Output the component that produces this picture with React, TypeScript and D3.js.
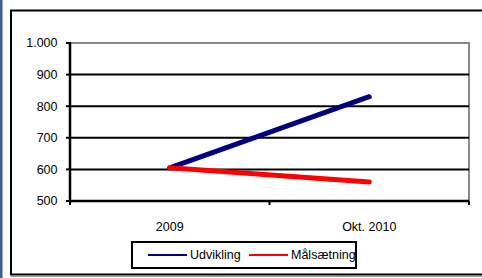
import React from "react";
import * as d3 from "d3";

const categories = ["2009", "Okt. 2010"];
const udvikling = [605, 830];
const maalsaetning = [605, 560];
const yTicks = [500, 600, 700, 800, 900, 1000];
const seriesNames = ["Udvikling", "Målsætning"];
const seriesColors = ["#000080", "#FF0000"];

const W = 482;
const H = 278;
const plot = { left: 70, top: 43, right: 469, bottom: 201 };

export default function App() {
  const x = d3.scaleBand<string>().domain(categories).range([plot.left, plot.right]).padding(0);
  const y = d3.scaleLinear().domain([500, 1000]).range([plot.bottom, plot.top]);
  const fmt = (v: number) => d3.format(",")(v).replace(/,/g, ".");
  const line = d3
    .line<number>()
    .x((_, i) => (x(categories[i]) as number) + x.bandwidth() / 2)
    .y((d) => y(d));
  const series = [udvikling, maalsaetning];
  const font = "'Liberation Sans', Arial, sans-serif";
  const fs = 12.5;
  const tickXs = [plot.left, ...categories.map((c) => (x(c) as number) + x.bandwidth())];

  return (
    <svg width={W} height={H} style={{ position: "absolute", left: 0, top: 0, background: "#fff" }}>
      <rect x={0} y={0} width={2.5} height={H} fill="#3B5F9A" />
      <rect x={11} y={10.5} width={W + 10} height={264} fill="#fff" stroke="#000" strokeWidth={2} />
      <line x1={11} x2={W} y1={276.5} y2={276.5} stroke="#999" strokeWidth={1} />
      <path
        d={`M${plot.left},${plot.top}H${plot.right}V${plot.bottom}`}
        fill="none"
        stroke="#888"
        strokeWidth={2}
      />
      {yTicks.map((t) => (
        <g key={t}>
          {t !== 1000 && (
            <line x1={plot.left} x2={plot.right} y1={y(t)} y2={y(t)} stroke="#000" strokeWidth={2} />
          )}
          <line x1={plot.left - 4} x2={plot.left} y1={y(t)} y2={y(t)} stroke="#000" strokeWidth={2} />
          <text x={57.5} y={y(t)} dy="0.35em" textAnchor="end" fontFamily={font} fontSize={fs} fill="#000">
            {fmt(t)}
          </text>
        </g>
      ))}
      <line x1={plot.left} x2={plot.left} y1={plot.top - 1} y2={plot.bottom + 1} stroke="#000" strokeWidth={2.5} />
      <line x1={plot.left} x2={plot.right} y1={plot.bottom} y2={plot.bottom} stroke="#000" strokeWidth={2.5} />
      {tickXs.map((tx, i) => (
        <line key={i} x1={tx} x2={tx} y1={plot.bottom} y2={plot.bottom + 4} stroke="#000" strokeWidth={2} />
      ))}
      {categories.map((c) => (
        <text
          key={c}
          x={(x(c) as number) + x.bandwidth() / 2}
          y={230.5}
          textAnchor="middle"
          fontFamily={font}
          fontSize={fs}
          fill="#000"
        >
          {c}
        </text>
      ))}
      {series.map((s, i) => (
        <path
          key={i}
          d={line(s) || ""}
          fill="none"
          stroke={seriesColors[i]}
          strokeWidth={5}
          strokeLinecap="round"
          strokeLinejoin="round"
        />
      ))}
      <defs>
        <clipPath id="legclip">
          <rect x={132} y={242} width={224} height={26} />
        </clipPath>
      </defs>
      <rect x={132} y={242} width={224} height={26} fill="#fff" stroke="#000" strokeWidth={2} />
      <g clipPath="url(#legclip)">
        {seriesNames.map((n, i) => {
          const lx = i === 0 ? 148 : 249;
          return (
            <g key={n}>
              <line x1={lx} x2={lx + 39} y1={255} y2={255} stroke={seriesColors[i]} strokeWidth={2} />
              <text x={lx + 42} y={255} dy="0.35em" fontFamily={font} fontSize={fs} fill="#000">
                {n}
              </text>
            </g>
          );
        })}
      </g>
    </svg>
  );
}
